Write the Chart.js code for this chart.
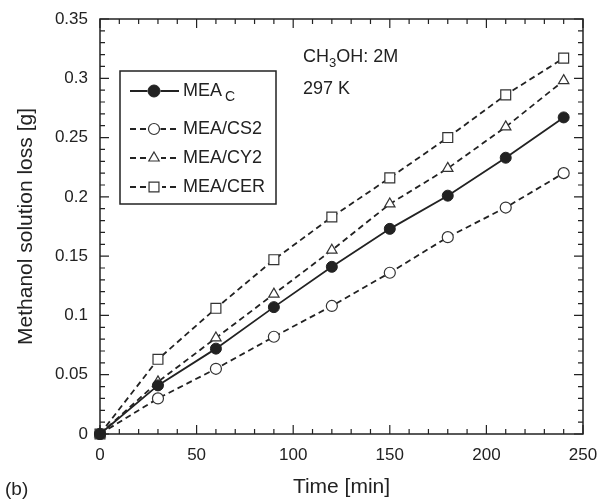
<!DOCTYPE html>
<html>
<head>
<meta charset="utf-8">
<script src="https://cdn.jsdelivr.net/npm/chart.js@4"></script>
<style>
  html, body { margin: 0; padding: 0; background: #fff; }
  #wrap { width: 598px; height: 501px; position: relative; }
</style>
</head>
<body>
<div id="wrap"><canvas id="lossChart"></canvas></div>
<script>
// Data
const times = [0, 30, 60, 90, 120, 150, 180, 210, 240];
const meaC   = [0, 0.041, 0.072, 0.107, 0.141, 0.173, 0.201, 0.233, 0.267];
const meaCS2 = [0, 0.030, 0.055, 0.082, 0.108, 0.136, 0.166, 0.191, 0.220];
const meaCY2 = [0, 0.044, 0.081, 0.118, 0.155, 0.194, 0.224, 0.259, 0.298];
const meaCER = [0, 0.063, 0.106, 0.147, 0.183, 0.216, 0.250, 0.286, 0.317];
const xTicks = [0, 50, 100, 150, 200, 250];
const yTicks = [0, 0.05, 0.1, 0.15, 0.2, 0.25, 0.3, 0.35];

const FONT = "'Liberation Sans', Arial, Helvetica, sans-serif";
const INK = '#222';

function pts(vals) {
    return times.map((t, i) => ({ x: t, y: vals[i] }));
}

// frame + inward major/minor ticks on all four sides, legend box, annotation
const framePlugin = {
    id: 'frame',
    afterDraw(chart) {
        const ctx = chart.ctx;
        const { left, right, top, bottom } = chart.chartArea;
        const xs = chart.scales.x, ys = chart.scales.y;
        ctx.save();
        ctx.strokeStyle = INK;
        ctx.lineWidth = 1.5;
        ctx.strokeRect(left, top, right - left, bottom - top);

        ctx.lineWidth = 1.2;
        ctx.beginPath();
        for (let v = 0; v <= 250; v += 10) {
            const px = xs.getPixelForValue(v);
            const len = (v % 50 === 0) ? 9 : 5;
            ctx.moveTo(px, bottom); ctx.lineTo(px, bottom - len);
            ctx.moveTo(px, top); ctx.lineTo(px, top + len);
        }
        for (let k = 0; k <= 35; k++) {
            const py = ys.getPixelForValue(k / 100);
            const len = (k % 5 === 0) ? 9 : 5;
            ctx.moveTo(left, py); ctx.lineTo(left + len, py);
            ctx.moveTo(right, py); ctx.lineTo(right - len, py);
        }
        ctx.stroke();

        // legend
        ctx.lineWidth = 1.5;
        ctx.strokeRect(120, 71, 156, 133);
        const rows = [
            { ds: 0, y: 91, label: 'MEA', sub: 'C' },
            { ds: 1, y: 129, label: 'MEA/CS2' },
            { ds: 2, y: 158, label: 'MEA/CY2' },
            { ds: 3, y: 187, label: 'MEA/CER' }
        ];
        rows.forEach(r => {
            const d = chart.data.datasets[r.ds];
            ctx.save();
            ctx.strokeStyle = d.borderColor;
            ctx.lineWidth = d.borderWidth;
            ctx.setLineDash(d.borderDash || []);
            ctx.beginPath();
            ctx.moveTo(130, r.y); ctx.lineTo(179, r.y);
            ctx.stroke();
            ctx.restore();
            ctx.save();
            ctx.fillStyle = '#fff';
            ctx.fillRect(154 - d.pointRadius - 1, r.y - d.pointRadius - 1, d.pointRadius * 2 + 2, d.pointRadius * 2 + 2);
            ctx.restore();
            ctx.save();
            ctx.strokeStyle = d.pointBorderColor;
            ctx.fillStyle = d.pointBackgroundColor;
            ctx.lineWidth = d.pointBorderWidth;
            const rad = r.ds === 0 ? d.pointRadius + 0.5 : d.pointRadius;
            Chart.helpers.drawPoint(ctx, { pointStyle: d.pointStyle, radius: rad, rotation: 0, borderWidth: d.pointBorderWidth }, 154, r.y);
            ctx.restore();

            ctx.fillStyle = INK;
            ctx.font = '18px ' + FONT;
            ctx.textBaseline = 'middle';
            ctx.textAlign = 'left';
            ctx.fillText(r.label, 183, r.y);
            if (r.sub) {
                const w = ctx.measureText(r.label).width;
                ctx.font = '14px ' + FONT;
                ctx.fillText(r.sub, 183 + w + 3, r.y + 6);
            }
        });

        // condition annotation
        ctx.fillStyle = INK;
        ctx.textBaseline = 'alphabetic';
        ctx.font = '18px ' + FONT;
        let x = 303;
        ctx.fillText('CH', x, 62);
        x += ctx.measureText('CH').width;
        ctx.font = '13px ' + FONT;
        ctx.fillText('3', x, 67);
        x += ctx.measureText('3').width;
        ctx.font = '18px ' + FONT;
        ctx.fillText('OH: 2M', x, 62);
        ctx.fillText('297 K', 303, 94);

        // panel label
        ctx.font = '19px ' + FONT;
        ctx.fillText('(b)', 5, 495);
        ctx.restore();
    }
};

const ctx = document.getElementById('lossChart');
new Chart(ctx, {
    type: 'line',
    data: {
        datasets: [
            {
                label: 'MEA_C',
                data: pts(meaC),
                borderColor: INK,
                borderWidth: 1.8,
                pointStyle: 'circle',
                pointRadius: 5.5,
                pointBackgroundColor: INK,
                pointBorderColor: INK,
                pointBorderWidth: 1
            },
            {
                label: 'MEA/CS2',
                data: pts(meaCS2),
                borderColor: INK,
                borderWidth: 1.8,
                borderDash: [6, 4],
                pointStyle: 'circle',
                pointRadius: 5.5,
                pointBackgroundColor: '#fff',
                pointBorderColor: '#333',
                pointBorderWidth: 1.2
            },
            {
                label: 'MEA/CY2',
                data: pts(meaCY2),
                borderColor: INK,
                borderWidth: 1.8,
                borderDash: [6, 4],
                pointStyle: 'triangle',
                pointRadius: 6,
                pointBackgroundColor: '#fff',
                pointBorderColor: '#333',
                pointBorderWidth: 1.2
            },
            {
                label: 'MEA/CER',
                data: pts(meaCER),
                borderColor: INK,
                borderWidth: 1.8,
                borderDash: [6, 4],
                pointStyle: 'rect',
                pointRadius: 7,
                pointBackgroundColor: '#fff',
                pointBorderColor: '#333',
                pointBorderWidth: 1.2
            }
        ]
    },
    options: {
        responsive: true,
        maintainAspectRatio: false,
        animation: false,
        clip: false,
        layout: { padding: { left: 0, top: 19, right: 15, bottom: 0 } },
        plugins: {
            legend: { display: false },
            tooltip: { enabled: false }
        },
        elements: { line: { tension: 0 } },
        scales: {
            x: {
                type: 'linear',
                min: 0,
                max: 250,
                afterFit: (s) => {
                    s.height = 67;
                    s.paddingLeft = 0; s.paddingRight = 0;
                },
                afterBuildTicks: (s) => { s.ticks = xTicks.map(v => ({ value: v })); },
                grid: { display: false, drawTicks: false },
                border: { display: false },
                ticks: {
                    padding: 11,
                    color: INK,
                    font: { family: FONT, size: 17 }
                },
                title: {
                    display: true,
                    text: 'Time [min]',
                    color: INK,
                    font: { family: FONT, size: 21 },
                    padding: { top: 0, bottom: 1 }
                }
            },
            y: {
                type: 'linear',
                min: 0,
                max: 0.35,
                afterFit: (s) => {
                    s.width = 100;
                    s.paddingTop = 0; s.paddingBottom = 0;
                },
                afterBuildTicks: (s) => { s.ticks = yTicks.map(v => ({ value: v })); },
                grid: { display: false, drawTicks: false },
                border: { display: false },
                ticks: {
                    padding: 12,
                    color: INK,
                    font: { family: FONT, size: 17 },
                    callback: (v) => String(Math.round(v * 100) / 100)
                },
                title: {
                    display: true,
                    text: 'Methanol solution loss [g]',
                    color: INK,
                    font: { family: FONT, size: 21 },
                    padding: { top: 14, bottom: 0 }
                }
            }
        }
    },
    plugins: [framePlugin]
});
</script>
</body>
</html>
